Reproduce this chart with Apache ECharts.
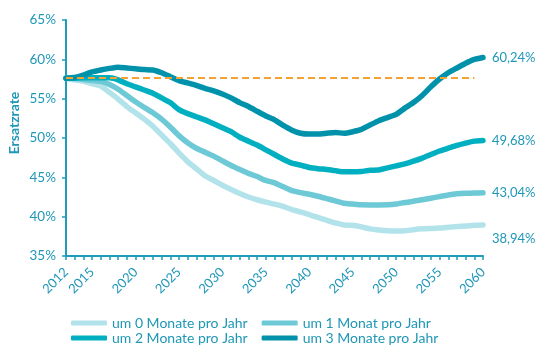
<!DOCTYPE html>
<html>
<head>
<meta charset="utf-8">
<script src="https://cdn.jsdelivr.net/npm/echarts@6/dist/echarts.min.js"></script>
<style>html,body{margin:0;padding:0;background:#fff;}#c{width:558px;height:362px;}</style>
</head>
<body>
<div id="c"></div>
<script>
const years = [];
for (let y = 2012; y <= 2060; y++) years.push(String(y));

const seriesNames = ['um 0 Monate pro Jahr', 'um 1 Monat pro Jahr', 'um 2 Monate pro Jahr', 'um 3 Monate pro Jahr'];

const um0 = [57.6,57.4,57.25,56.9,56.6,55.8,54.95,54.0,53.2,52.4,51.5,50.4,49.3,48.1,47.0,46.1,45.2,44.6,44.0,43.45,42.95,42.5,42.15,41.85,41.6,41.3,40.9,40.6,40.25,39.9,39.55,39.2,38.95,38.9,38.7,38.45,38.3,38.2,38.17,38.2,38.35,38.45,38.5,38.55,38.65,38.75,38.8,38.9,38.94];
const um1 = [57.6,57.55,57.45,57.3,57.2,56.8,56.2,55.4,54.6,53.9,53.2,52.4,51.4,50.3,49.4,48.7,48.2,47.7,47.1,46.5,46.0,45.5,45.1,44.6,44.3,43.8,43.3,43.05,42.85,42.6,42.3,42.0,41.7,41.6,41.5,41.48,41.48,41.5,41.6,41.8,41.95,42.15,42.35,42.55,42.75,42.9,42.97,43.0,43.04];
const um2 = [57.6,57.6,57.65,57.65,57.65,57.65,57.4,56.9,56.5,56.1,55.7,55.1,54.5,53.6,53.1,52.7,52.3,51.8,51.3,50.8,50.1,49.6,49.1,48.5,47.9,47.3,46.8,46.55,46.25,46.1,46.0,45.85,45.7,45.7,45.75,45.9,45.93,46.2,46.45,46.7,47.05,47.45,47.9,48.35,48.7,49.05,49.35,49.6,49.68];
const um3 = [57.6,57.7,58.0,58.4,58.65,58.85,59.0,58.9,58.8,58.7,58.65,58.3,57.8,57.3,57.0,56.7,56.3,56.0,55.6,55.1,54.5,54.0,53.4,52.8,52.3,51.6,51.0,50.6,50.5,50.5,50.6,50.7,50.6,50.8,51.1,51.65,52.2,52.6,53.0,53.8,54.5,55.4,56.5,57.5,58.3,58.9,59.5,60.0,60.24];

const baseline = 57.6;
const yTicks = { min: 35, max: 65, step: 5 };

const colors = ['#b3e3ea', '#6dc9d5', '#00b0c1', '#0092aa'];
const textColor = '#1f97b7';
const axisColor = '#1e9dbb';
const font = 'Lato, "Open Sans", sans-serif';

const allData = [um0, um1, um2, um3];
const fmt = v => v.toFixed(2).replace('.', ',') + '%';

const series = allData.map((d, i) => {
  const s = {
    name: seriesNames[i],
    type: 'line',
    data: d,
    symbol: 'none',
    smooth: 0.15,
    z: 2 + i,
    lineStyle: { width: 5.5, color: colors[i], cap: 'round', join: 'round' },
    itemStyle: { color: colors[i] },
    endLabel: {
      show: true,
      formatter: p => fmt(p.value),
      color: textColor,
      fontFamily: font,
      fontSize: 13,
      distance: 9,
      offset: i === 0 ? [0, 14] : [0, 0]
    },
    emphasis: { disabled: true },
    animation: false
  };
  if (i === 3) {
    s.markLine = {
      silent: true,
      symbol: 'none',
      label: { show: false },
      lineStyle: { color: '#f5a233', width: 2, type: [7, 4] },
      data: [[{ coord: [years[0], baseline] }, { coord: [years[years.length - 2], baseline] }]],
      z: 10
    };
  }
  return s;
});

const legendBase = {
  left: 66, itemWidth: 36, itemHeight: 5, itemGap: 14,
  icon: 'roundRect',
  textStyle: { color: textColor, fontFamily: font, fontSize: 14 },
  selectedMode: false
};

const chart = echarts.init(document.getElementById('c'));
chart.setOption({
  animation: false,
  backgroundColor: '#fff',
  grid: { left: 66, right: 75, top: 20, bottom: 106, containLabel: false },
  legend: [
    Object.assign({}, legendBase, { data: [seriesNames[0], seriesNames[1]], top: 311 }),
    Object.assign({}, legendBase, { data: [seriesNames[2], seriesNames[3]], top: 326 })
  ],
  xAxis: {
    type: 'category',
    data: years,
    boundaryGap: false,
    axisLine: { lineStyle: { color: axisColor, width: 2 } },
    axisTick: { show: true, interval: 0, length: 4, lineStyle: { color: axisColor, width: 1.5 } },
    axisLabel: {
      rotate: 45,
      margin: 14,
      color: textColor,
      fontFamily: font,
      fontSize: 13,
      interval: (idx, val) => idx === 0 || (+val) % 5 === 0
    },
    splitLine: { show: false }
  },
  yAxis: {
    type: 'value',
    min: yTicks.min, max: yTicks.max, interval: yTicks.step,
    axisLine: { show: true, lineStyle: { color: axisColor, width: 2 } },
    axisTick: { show: true, length: 4, lineStyle: { color: axisColor, width: 1.5 } },
    axisLabel: { formatter: '{value}%', color: textColor, fontFamily: font, fontSize: 13.5, margin: 10 },
    splitLine: { show: false }
  },
  graphic: [{
    type: 'text',
    x: 14, y: 123,
    rotation: Math.PI / 2,
    style: {
      text: 'Ersatzrate',
      fill: textColor,
      font: 'bold 14px Lato, "Open Sans", sans-serif',
      textAlign: 'center',
      textVerticalAlign: 'middle'
    }
  }],
  series: series
});
</script>
</body>
</html>
